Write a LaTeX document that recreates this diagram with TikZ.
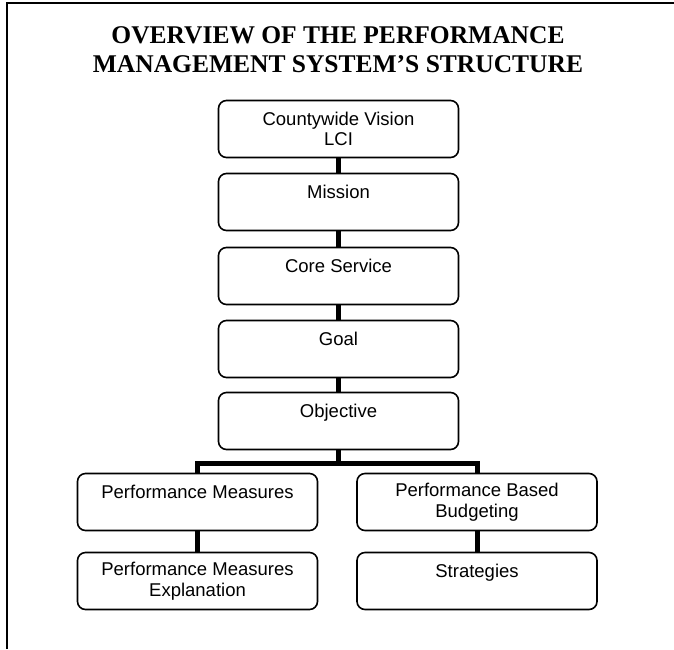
\documentclass[tikz,border=0pt]{standalone}
\usepackage{fontspec}
\setmainfont{Liberation Serif}
\newfontfamily\boxfont{Liberation Sans}
\begin{document}
\begin{tikzpicture}[x=1pt, y=-1pt,
  stage/.style={draw=black, line width=1.6pt, rounded corners=8pt,
    minimum width=240pt, minimum height=57pt, inner sep=0pt,
    align=center, font=\boxfont\fontsize{18.5}{20.5}\selectfont},
  oneline/.style={text height=13pt, text depth=20pt},
  link/.style={line width=5pt, line join=miter}
]
\useasboundingbox (0,0) rectangle (674,649);

% frame edges
\draw[line width=2.2pt] (7,649) coordinate (fl) -- (7,3) coordinate (fc) -- (674,3) coordinate (fr);

% heading
\node[font=\bfseries\fontsize{25.5}{29}\selectfont, align=center] (title) at (338,50)
  {OVERVIEW OF THE PERFORMANCE\\MANAGEMENT SYSTEM'S STRUCTURE};

% main chain
\node[stage] (vision) at (338.5,129) {Countywide Vision\\LCI};
\node[stage, oneline] (mission) at (338.5,202) {Mission};
\node[stage, oneline] (core) at (338.5,276) {Core Service};
\node[stage, oneline] (goal) at (338.5,349) {Goal};
\node[stage, oneline] (objective) at (338.5,421) {Objective};

% two branches
\node[stage, oneline] (measures) at (197.5,502) {Performance Measures};
\node[stage] (explain) at (197.5,581) {Performance Measures\\Explanation};
\node[stage] (budget) at (477,502) {Performance Based\\Budgeting};
\node[stage, oneline] (strategies) at (477,581) {Strategies};

% connectors
\draw[link] (vision.south) -- (mission.north);
\draw[link] (mission.south) -- (core.north);
\draw[link] (core.south) -- (goal.north);
\draw[link] (goal.south) -- (objective.north);
\coordinate (split) at (338.5,463);
\draw[link] (objective.south) -- (split);
\draw[link] (measures.north) |- (split) -| (budget.north);
\draw[link] (measures.south) -- (explain.north);
\draw[link] (budget.south) -- (strategies.north);
\end{tikzpicture}
\end{document}
